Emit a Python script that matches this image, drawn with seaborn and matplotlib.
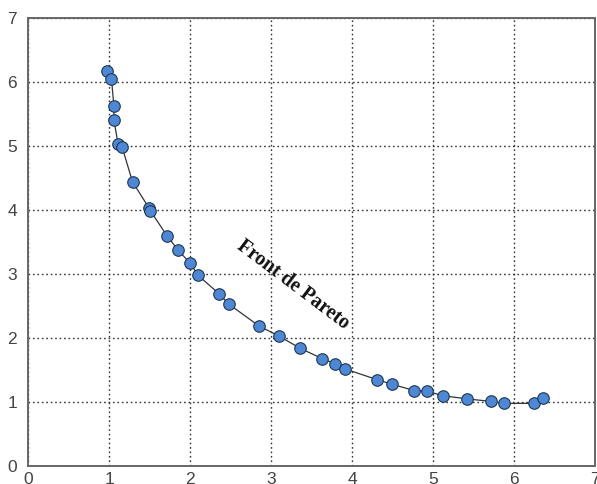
import pandas as pd
import seaborn as sns
import matplotlib.pyplot as plt

# Pareto front points
f1 = [0.98, 1.03, 1.06, 1.06, 1.11, 1.16, 1.29, 1.49, 1.51, 1.72, 1.85,
      2.00, 2.10, 2.36, 2.48, 2.85, 3.10, 3.36, 3.63, 3.79, 3.91, 4.31,
      4.49, 4.77, 4.93, 5.12, 5.42, 5.72, 5.87, 6.25, 6.36]
f2 = [6.17, 6.05, 5.62, 5.41, 5.04, 4.99, 4.44, 4.04, 3.99, 3.59, 3.38,
      3.17, 2.98, 2.69, 2.53, 2.19, 2.03, 1.84, 1.68, 1.60, 1.52, 1.35,
      1.28, 1.18, 1.17, 1.10, 1.05, 1.01, 0.98, 0.98, 1.06]
ticks = [0, 1, 2, 3, 4, 5, 6, 7]

data = pd.DataFrame({'f1': f1, 'f2': f2})

sns.set_style('white')
plt.rcParams['font.family'] = ['Liberation Sans', 'DejaVu Sans']

fig = plt.figure(figsize=(5.97, 4.84), dpi=100)
ax = fig.add_axes([0.047, 0.037, 0.9497, 0.9256])

# estimator=None so the two points sharing x=1.06 are both kept
sns.lineplot(data=data, x='f1', y='f2', sort=False, estimator=None, ax=ax,
             color='#333333', linewidth=0.9, marker='o', markersize=8.3,
             markerfacecolor='#4d88d6', markeredgecolor='#1f3550',
             markeredgewidth=0.8)

ax.set_xlim(0, 7)
ax.set_ylim(0, 7)
ax.set_xticks(ticks)
ax.set_yticks(ticks)
ax.set_xlabel('')
ax.set_ylabel('')
ax.grid(True, linestyle=(0, (1.2, 2.0)), color='#333333', linewidth=1.0)
ax.tick_params(axis='both', direction='in', length=4, labelsize=12.5,
               labelcolor='#444444', color='#555555')
ax.tick_params(axis='x', pad=4)
ax.tick_params(axis='y', pad=8)
for spine in ax.spines.values():
    spine.set_color('#666666')
    spine.set_linewidth(1.4)

ax.text(3.27, 2.84, 'Front de Pareto', rotation=-37, ha='center',
        va='center', fontsize=14.5, fontweight='bold',
        family=['Liberation Serif', 'DejaVu Serif'], color='#111111')

fig.savefig('out.png', dpi=100)
